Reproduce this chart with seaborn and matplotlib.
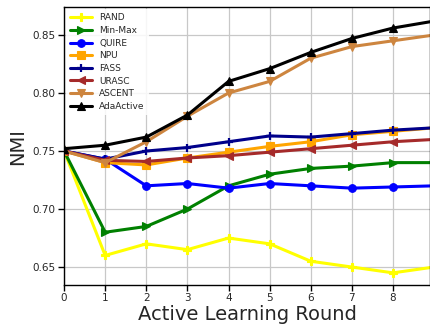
import matplotlib
matplotlib.use("Agg")
import matplotlib.pyplot as plt
import seaborn as sns
import pandas as pd

rounds = [0, 1, 2, 3, 4, 5, 6, 7, 8, 9]
methods = ["RAND", "Min-Max", "QUIRE", "NPU", "FASS", "URASC", "ASCENT", "AdaActive"]

rand = [0.750, 0.660, 0.670, 0.665, 0.675, 0.670, 0.655, 0.650, 0.645, 0.650]
minmax = [0.750, 0.680, 0.685, 0.700, 0.720, 0.730, 0.735, 0.737, 0.740, 0.740]
quire = [0.750, 0.743, 0.720, 0.722, 0.718, 0.722, 0.720, 0.718, 0.719, 0.720]
npu = [0.750, 0.740, 0.738, 0.744, 0.749, 0.754, 0.758, 0.764, 0.767, 0.770]
fass = [0.750, 0.743, 0.750, 0.753, 0.758, 0.763, 0.762, 0.765, 0.768, 0.770]
urasc = [0.750, 0.742, 0.741, 0.744, 0.746, 0.749, 0.752, 0.755, 0.758, 0.760]
ascent = [0.750, 0.740, 0.758, 0.780, 0.800, 0.810, 0.830, 0.840, 0.845, 0.850]
adaactive = [0.752, 0.755, 0.762, 0.781, 0.810, 0.821, 0.835, 0.847, 0.856, 0.862]

series = [rand, minmax, quire, npu, fass, urasc, ascent, adaactive]
colors = ["#ffff00", "#008000", "#0000ff", "#ffa500", "#00008b", "#a52a2a", "#cd853f", "#000000"]
marker_styles = ["P", ">", "o", "s", "+", "<", "v", "^"]

df = pd.DataFrame({"Round": rounds})
for name, vals in zip(methods, series):
    df[name] = vals

sns.set_style("whitegrid")
plt.rcParams["font.family"] = ["DejaVu Sans"]

fig = plt.figure(figsize=(4.30, 3.25), dpi=100)
ax = fig.add_axes([0.149, 0.123, 0.851, 0.855])

for name, col, mk in zip(methods, colors, marker_styles):
    sns.lineplot(
        data=df, x="Round", y=name, color=col, marker=mk, label=name,
        linewidth=2.2, markersize=5.5, markeredgewidth=0.8 if mk != "+" else 1.6,
        markeredgecolor=col, ax=ax,
    )

ax.set_xlim(0, 8.9)
ax.set_ylim(0.6345, 0.874)
ax.set_xticks(range(0, 9))
ax.set_yticks([0.65, 0.70, 0.75, 0.80, 0.85])
ax.set_yticklabels(["0.65", "0.70", "0.75", "0.80", "0.85"])
ax.tick_params(axis="both", labelsize=7.5, length=4, width=1, color="black",
               bottom=True, left=True, pad=2)
ax.grid(True, color="#c8c8c8", linewidth=0.9)
for side in ["left", "bottom", "top", "right"]:
    ax.spines[side].set_color("black")
    ax.spines[side].set_linewidth(1)
ax.set_xlabel("Active Learning Round", fontsize=14, labelpad=1)
ax.set_ylabel("NMI", fontsize=14, labelpad=4)

ax.legend(loc="upper left", fontsize=6.5, frameon=True, framealpha=0.85,
          edgecolor="none", handlelength=2.4,
          labelspacing=0.4, borderpad=0.5, borderaxespad=0.2)

fig.savefig("out.png", dpi=100)
